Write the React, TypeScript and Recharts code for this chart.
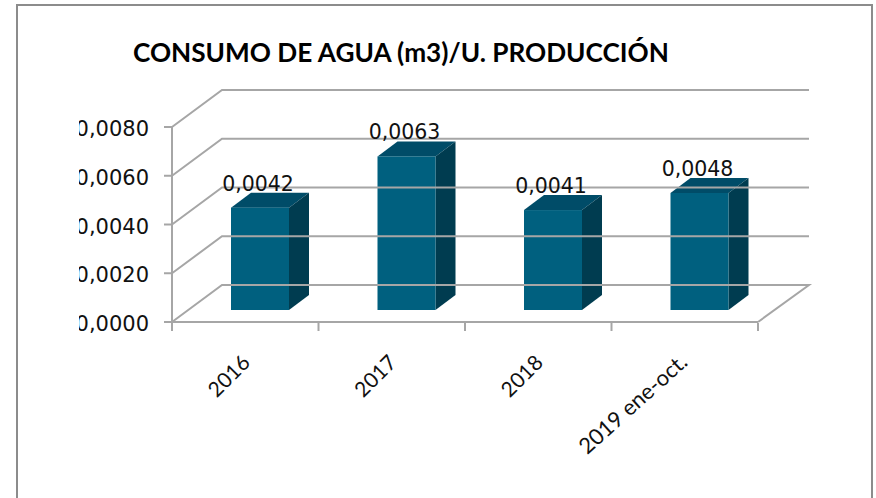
import React from "react";
import { BarChart, Bar, XAxis, YAxis, ReferenceLine, LabelList } from "recharts";

const categories = ["2016", "2017", "2018", "2019 ene-oct."];
const values = [0.0042, 0.0063, 0.0041, 0.0048];
const yTicks = [0, 0.002, 0.004, 0.006, 0.008];
const titleText = "CONSUMO DE AGUA (m3)/U. PRODUCCIÓN";

const rows = categories.map((name, i) => ({ name, value: values[i] }));

const GRID = "#a6a6a6";
const FONT = "'DejaVu Sans', sans-serif";
const LABEL_FONT = "Lato, sans-serif";
const DX = 50;
const DY = 37;
const BAR_DX = 15;
const BAR_DY = 12;
const SIDE_X = 20;
const SIDE_Y = 15;

const fmt = (v: number) => v.toFixed(4).replace(".", ",");

const Bar3D = (p: any) => {
  const x = p.x + BAR_DX;
  const y = p.y - BAR_DY;
  const w = p.width;
  const h = p.height;
  return (
    <g>
      <path d={`M${x},${y} L${x + SIDE_X},${y - SIDE_Y} L${x + w + SIDE_X},${y - SIDE_Y} L${x + w},${y} Z`} fill="#004c68" />
      <path d={`M${x + w},${y} L${x + w + SIDE_X},${y - SIDE_Y} L${x + w + SIDE_X},${y + h - SIDE_Y} L${x + w},${y + h} Z`} fill="#003c50" />
      <rect x={x} y={y} width={w} height={h} fill="#00607f" />
    </g>
  );
};

const GridLine = (p: any) => {
  const { x1, y1, x2 } = p;
  return (
    <path
      d={`M${x1},${y1} L${x1 + DX},${y1 - DY} L${x2 + DX + 1},${y1 - DY}`}
      fill="none"
      stroke={GRID}
      strokeWidth={2}
    />
  );
};

const FloorEdge = (p: any) => {
  const { x1, y1, x2 } = p;
  return (
    <path
      d={`M${x1},${y1} L${x1 + DX},${y1 - DY} L${x2 + DX + 1},${y1 - DY} L${x2},${y1}`}
      fill="none"
      stroke={GRID}
      strokeWidth={2}
    />
  );
};

const YTick = (p: any) => (
  <g>
    <clipPath id={`yclip-${p.index}`}>
      <rect x={79} y={p.y - 20} width={90} height={40} />
    </clipPath>
    <text
      x={149}
      y={p.y}
      dy={2}
      textAnchor="end"
      dominantBaseline="central"
      fontFamily={FONT}
      fontSize={21}
      fill="#111"
      clipPath={`url(#yclip-${p.index})`}
    >
      {fmt(p.payload.value)}
    </text>
  </g>
);

const XTick = (p: any) => {
  const step = p.width / p.visibleTicksCount;
  const left = p.x - step / 2;
  const isLast = p.index === p.visibleTicksCount - 1;
  const tx = p.x + (isLast ? 4 : 6);
  const ty = p.y + 28 + 12;
  const angle = isLast ? -42 : -45;
  return (
    <g>
      <line x1={left} x2={left} y1={p.y - 1} y2={p.y + 7} stroke={GRID} strokeWidth={2} />
      {isLast && <line x1={left + step} x2={left + step} y1={p.y - 1} y2={p.y + 7} stroke={GRID} strokeWidth={2} />}
      <text
        x={tx}
        y={ty}
        textAnchor="end"
        fontFamily={LABEL_FONT}
        fontSize={isLast ? 22 : 21}
        fill="#111"
        transform={`rotate(${angle} ${tx} ${ty})`}
      >
        {p.payload.value}
      </text>
    </g>
  );
};

const ValueLabel = (p: any) => (
  <text
    x={p.x + p.width / 2 + 13}
    y={p.y - 36}
    textAnchor="middle"
    dominantBaseline="central"
    fontFamily={FONT}
    fontSize={20.5}
    fill="#111"
  >
    {fmt(p.value)}
  </text>
);

export default function App() {
  return (
    <div style={{ position: "absolute", left: 0, top: 0, width: 876, height: 498, background: "#fff", overflow: "hidden" }}>
      <div
        style={{
          position: "absolute",
          left: 16,
          top: 4,
          width: 857,
          height: 520,
          border: "2px solid #8c8c8c",
          boxSizing: "border-box",
        }}
      />
      <div style={{ position: "absolute", left: 0, top: 0 }}>
        <BarChart
          width={876}
          height={498}
          data={rows}
          margin={{ top: 127, right: 118, bottom: 146, left: 0 }}
          barSize={58}
        >
          <text x={133} y={62} fontFamily={LABEL_FONT} fontWeight={700} fontSize={26.2} fill="#000">
            {titleText}
          </text>
          <XAxis
            dataKey="name"
            axisLine={{ stroke: GRID, strokeWidth: 2 }}
            tickLine={false}
            tickSize={0}
            tick={<XTick />}
            interval={0}
          />
          <YAxis
            width={172}
            domain={[0, 0.008]}
            ticks={yTicks}
            axisLine={{ stroke: GRID, strokeWidth: 2 }}
            tickLine={{ stroke: GRID, strokeWidth: 2 }}
            tickSize={8}
            tick={<YTick />}
            interval={0}
          />
          {yTicks.map((t) => (
            <ReferenceLine key={t} y={t} ifOverflow="visible" shape={t === 0 ? <FloorEdge /> : <GridLine />} />
          ))}
          <Bar dataKey="value" isAnimationActive={false} shape={<Bar3D />}>
            <LabelList dataKey="value" content={<ValueLabel />} />
          </Bar>
        </BarChart>
      </div>
    </div>
  );
}
